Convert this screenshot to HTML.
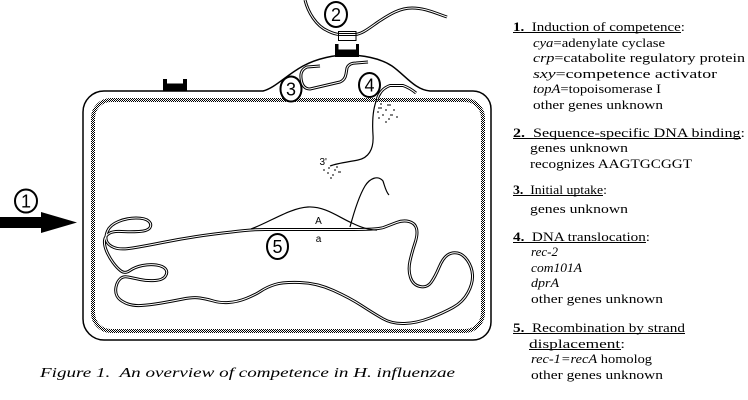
<!DOCTYPE html>
<html><head><meta charset="utf-8"><style>
html,body{margin:0;padding:0;background:#fff;}
svg{display:block;}
.t{font-family:"Liberation Serif",serif;font-size:12.5px;fill:#000;}
.n{font-family:"Liberation Sans",sans-serif;font-size:18px;fill:#000;}
.s{font-family:"Liberation Sans",sans-serif;font-size:10px;fill:#000;}
</style></head><body>
<svg width="748" height="400" viewBox="0 0 748 400" xmlns="http://www.w3.org/2000/svg">
<defs>
<pattern id="chk" width="2" height="2" patternUnits="userSpaceOnUse">
<rect width="2" height="2" fill="#fff"/>
<rect width="1" height="1" fill="#000"/>
<rect x="1" y="1" width="1" height="1" fill="#000"/>
</pattern>
</defs>
<rect width="748" height="400" fill="#fff"/>

<!-- inner membrane -->
<rect x="93" y="100" width="390" height="231" rx="18" fill="none" stroke="url(#chk)" stroke-width="4"/>

<!-- outer membrane with bump -->
<path d="M105,91 L263,91 C275,88 285,76 303,66 C318,58 335,55 347,55 C362,55 380,58 392,66 C405,75 415,90 430,91 L473,91 A18,18 0 0 1 491,109 L491,322 A18,18 0 0 1 473,340 L104,340 A21,21 0 0 1 83,319 L83,112 A21,21 0 0 1 104,91 Z" fill="none" stroke="#000" stroke-width="1.5"/>

<!-- receptors -->
<polygon points="163,79 167,79 167,83.5 183,83.5 183,79 187,79 187,91.5 163,91.5" fill="#000"/>
<polygon points="335,44 338.5,44 338.5,49.5 356,49.5 356,44 359,44 359,57 335,57" fill="#000"/>

<!-- arrow -->
<polygon points="0,217 41,217 41,212 77,222.5 41,233 41,228 0,228" fill="#000"/>

<!-- circles -->
<g fill="#fff" stroke="#000" stroke-width="2">
<ellipse cx="26" cy="201" rx="11" ry="11.5"/>
<ellipse cx="336" cy="14.5" rx="11" ry="12.5"/>
<ellipse cx="291" cy="89" rx="10.5" ry="12.5"/>
<ellipse cx="369.5" cy="85" rx="10.5" ry="12"/>
<ellipse cx="277.5" cy="246.5" rx="10.5" ry="12.5"/>
</g>
<g class="n" text-anchor="middle">
<text x="26" y="207.5">1</text>
<text x="336" y="21">2</text>
<text x="291" y="95.5">3</text>
<text x="369.5" y="91.5">4</text>
<text x="277.5" y="253">5</text>
</g>

<!-- double-line DNA strands -->
<g fill="none" stroke-linejoin="round" stroke-linecap="butt">
<g stroke="#000" stroke-width="3">
<path d="M305,0 C308,12 316,26 328,31 C332,33 336,34.5 340,34.5 L355,34.5 C362,34 368,29 378,22 C390,14 400,8 412,8 C425,8 435,13 447,17"/>
<path d="M320,66 L307,67 Q300,70 301,78 Q302,89 310,89 L340,82 Q345,80 346,74 L347,68 Q349,63 356,63 L368,62"/>
<path d="M377,100 Q380,89 390,85.5 L403,85.5 Q410,88 416,93"/>
<path d="M132.5,248 Q120,250 114,247.5 Q108,245 106.5,241 Q105,237 107.5,231 Q110,225 118.5,221.5 Q127,218 136,218 Q145,218 148.5,221 Q152,224 150,227.5 Q148,231 139,231.5 Q130,232 121.5,231.5 Q113,231 109,233.5 Q105,236 104.5,240.5 Q104,245 106.5,251 Q109,257 113,262.5 Q117,268 121,271 Q125,274 130,270.5 Q135,267 142.5,265.5 Q150,264 156.5,265 Q163,266 165.5,269 Q168,272 165.5,276 Q163,280 155,280.5 Q147,281 140,279.5 Q133,278 128,277 Q123,276 120,279 Q117,282 116,287 Q115,292 117,296 Q119,300 125.5,303 Q132,306 141,305.5 Q150,305 161.5,303 Q173,301 183,299 Q193,297 200,298 Q207,299 213.5,301 Q220,303 228.5,302.5 Q237,302 246,298.5 Q255,295 261,291 Q267,287 275,284.5 Q283,282 300,282.5 Q317,283 333.5,290.5 Q350,298 361.5,305.5 Q373,313 382.5,318.5 Q392,324 404.5,323.5 Q417,323 430,318 Q443,313 453,307.5 Q463,302 468,292.5 Q473,283 472.5,275 Q472,267 467.5,260.5 Q463,254 457.5,253 Q452,252 447.5,255 Q443,258 439,267.5 Q435,277 431,282.5 Q427,288 420,286.5 Q413,285 410.5,277.5 Q408,270 410,261 Q412,252 415,243 Q418,234 416.5,228.5 Q415,223 409,221.5 Q403,220 396.5,222.5 Q390,225 383.5,227.5 Q377,229.5 353.5,229.5 L265,229.5 Q250,229.5 231.5,232 Q213,234 196.5,236.5 Q180,239 162.5,242.5 Q145,246 132.5,248 Z"/>
</g>
<g stroke="#fff" stroke-width="1">
<path d="M305,0 C308,12 316,26 328,31 C332,33 336,34.5 340,34.5 L355,34.5 C362,34 368,29 378,22 C390,14 400,8 412,8 C425,8 435,13 447,17"/>
<path d="M320,66 L307,67 Q300,70 301,78 Q302,89 310,89 L340,82 Q345,80 346,74 L347,68 Q349,63 356,63 L368,62"/>
<path d="M377,100 Q380,89 390,85.5 L403,85.5 Q410,88 416,93"/>
<path d="M132.5,248 Q120,250 114,247.5 Q108,245 106.5,241 Q105,237 107.5,231 Q110,225 118.5,221.5 Q127,218 136,218 Q145,218 148.5,221 Q152,224 150,227.5 Q148,231 139,231.5 Q130,232 121.5,231.5 Q113,231 109,233.5 Q105,236 104.5,240.5 Q104,245 106.5,251 Q109,257 113,262.5 Q117,268 121,271 Q125,274 130,270.5 Q135,267 142.5,265.5 Q150,264 156.5,265 Q163,266 165.5,269 Q168,272 165.5,276 Q163,280 155,280.5 Q147,281 140,279.5 Q133,278 128,277 Q123,276 120,279 Q117,282 116,287 Q115,292 117,296 Q119,300 125.5,303 Q132,306 141,305.5 Q150,305 161.5,303 Q173,301 183,299 Q193,297 200,298 Q207,299 213.5,301 Q220,303 228.5,302.5 Q237,302 246,298.5 Q255,295 261,291 Q267,287 275,284.5 Q283,282 300,282.5 Q317,283 333.5,290.5 Q350,298 361.5,305.5 Q373,313 382.5,318.5 Q392,324 404.5,323.5 Q417,323 430,318 Q443,313 453,307.5 Q463,302 468,292.5 Q473,283 472.5,275 Q472,267 467.5,260.5 Q463,254 457.5,253 Q452,252 447.5,255 Q443,258 439,267.5 Q435,277 431,282.5 Q427,288 420,286.5 Q413,285 410.5,277.5 Q408,270 410,261 Q412,252 415,243 Q418,234 416.5,228.5 Q415,223 409,221.5 Q403,220 396.5,222.5 Q390,225 383.5,227.5 Q377,229.5 353.5,229.5 L265,229.5 Q250,229.5 231.5,232 Q213,234 196.5,236.5 Q180,239 162.5,242.5 Q145,246 132.5,248 Z"/>
</g>
</g>

<!-- binding box -->
<rect x="338.5" y="31.5" width="17.5" height="9" fill="none" stroke="#000" stroke-width="1"/>

<!-- single strands -->
<g fill="none" stroke="#000" stroke-width="1.2">
<path d="M377,99 C373,108 372,120 373,135 C374,150 368,158 358,160 C348,162 338,163 330,166"/>
<path d="M251,229 C270,222 290,208 308,207 C325,206 340,218 352,223 C362,228 370,230 377,230"/>
<path d="M350,227 C354,212 359,196 365,186 C370,178 378,175 383,181 C385,187 386,192 389,195"/>
</g>

<!-- speckles -->
<g stroke="#000" stroke-width="1" fill="none">
<path d="M378,108h4 M387,105h4 M385,110h2 M377,112h2 M382,115h2 M390,115h3 M396,117h2 M378,118h2 M385,122h2 M393,110h2 M380,104h2 M388,119h2"/>
<path d="M323,170h2 M328,168h2 M334,170h2 M338,172h3 M327,173h2 M332,175h2 M330,178h2 M336,167h2"/>
</g>

<text class="s" x="319.5" y="165">3'</text>
<text class="s" x="318.5" y="224" text-anchor="middle">A</text>
<text class="s" x="318.5" y="242" text-anchor="middle">a</text>

<!-- right column text -->
<g class="t">
<text x="513" y="31" textLength="172" lengthAdjust="spacingAndGlyphs"><tspan font-weight="bold">1.</tspan>&#160; Induction of competence:</text>
<text x="533" y="47" textLength="132" lengthAdjust="spacingAndGlyphs"><tspan font-style="italic">cya</tspan>=adenylate cyclase</text>
<text x="533" y="62" textLength="212" lengthAdjust="spacingAndGlyphs"><tspan font-style="italic">crp</tspan>=catabolite regulatory protein</text>
<text x="533" y="78" textLength="184" lengthAdjust="spacingAndGlyphs"><tspan font-style="italic">sxy</tspan>=competence activator</text>
<text x="533" y="93" textLength="128" lengthAdjust="spacingAndGlyphs"><tspan font-style="italic">topA</tspan>=topoisomerase I</text>
<text x="533" y="109" textLength="130" lengthAdjust="spacingAndGlyphs">other genes unknown</text>

<text x="513" y="137" textLength="232" lengthAdjust="spacingAndGlyphs"><tspan font-weight="bold">2.</tspan>&#160; Sequence-specific DNA binding:</text>
<text x="530" y="152" textLength="98" lengthAdjust="spacingAndGlyphs">genes unknown</text>
<text x="530" y="168" textLength="162" lengthAdjust="spacingAndGlyphs">recognizes AAGTGCGGT</text>

<text x="513" y="194" textLength="94" lengthAdjust="spacingAndGlyphs"><tspan font-weight="bold">3.</tspan>&#160; Initial uptake:</text>
<text x="530" y="213" textLength="98" lengthAdjust="spacingAndGlyphs">genes unknown</text>

<text x="513" y="241" textLength="137" lengthAdjust="spacingAndGlyphs"><tspan font-weight="bold">4.</tspan>&#160; DNA translocation:</text>
<text x="531" y="256" textLength="27" lengthAdjust="spacingAndGlyphs" font-style="italic">rec-2</text>
<text x="531" y="272" textLength="51" lengthAdjust="spacingAndGlyphs" font-style="italic">com101A</text>
<text x="531" y="287" textLength="28" lengthAdjust="spacingAndGlyphs" font-style="italic">dprA</text>
<text x="531" y="303" textLength="132" lengthAdjust="spacingAndGlyphs">other genes unknown</text>

<text x="513" y="332" textLength="172" lengthAdjust="spacingAndGlyphs"><tspan font-weight="bold">5.</tspan>&#160; Recombination by strand</text>
<text x="529" y="348" textLength="96" lengthAdjust="spacingAndGlyphs">displacement:</text>
<text x="531" y="363" textLength="121" lengthAdjust="spacingAndGlyphs"><tspan font-style="italic">rec-1=recA</tspan> homolog</text>
<text x="531" y="379" textLength="132" lengthAdjust="spacingAndGlyphs">other genes unknown</text>
</g>
<g stroke="#000" stroke-width="1">
<line x1="513" y1="32.5" x2="681" y2="32.5"/>
<line x1="513" y1="138.5" x2="741" y2="138.5"/>
<line x1="513" y1="195.5" x2="603" y2="195.5"/>
<line x1="513" y1="242.5" x2="646" y2="242.5"/>
<line x1="513" y1="333.5" x2="685" y2="333.5"/>
<line x1="529" y1="349.5" x2="621" y2="349.5"/>
</g>

<!-- caption -->
<text x="40" y="377" font-family="'Liberation Serif',serif" font-style="italic" font-size="14" textLength="415" lengthAdjust="spacingAndGlyphs">Figure 1.&#160; An overview of competence in H. influenzae</text>
</svg>
</body></html>
